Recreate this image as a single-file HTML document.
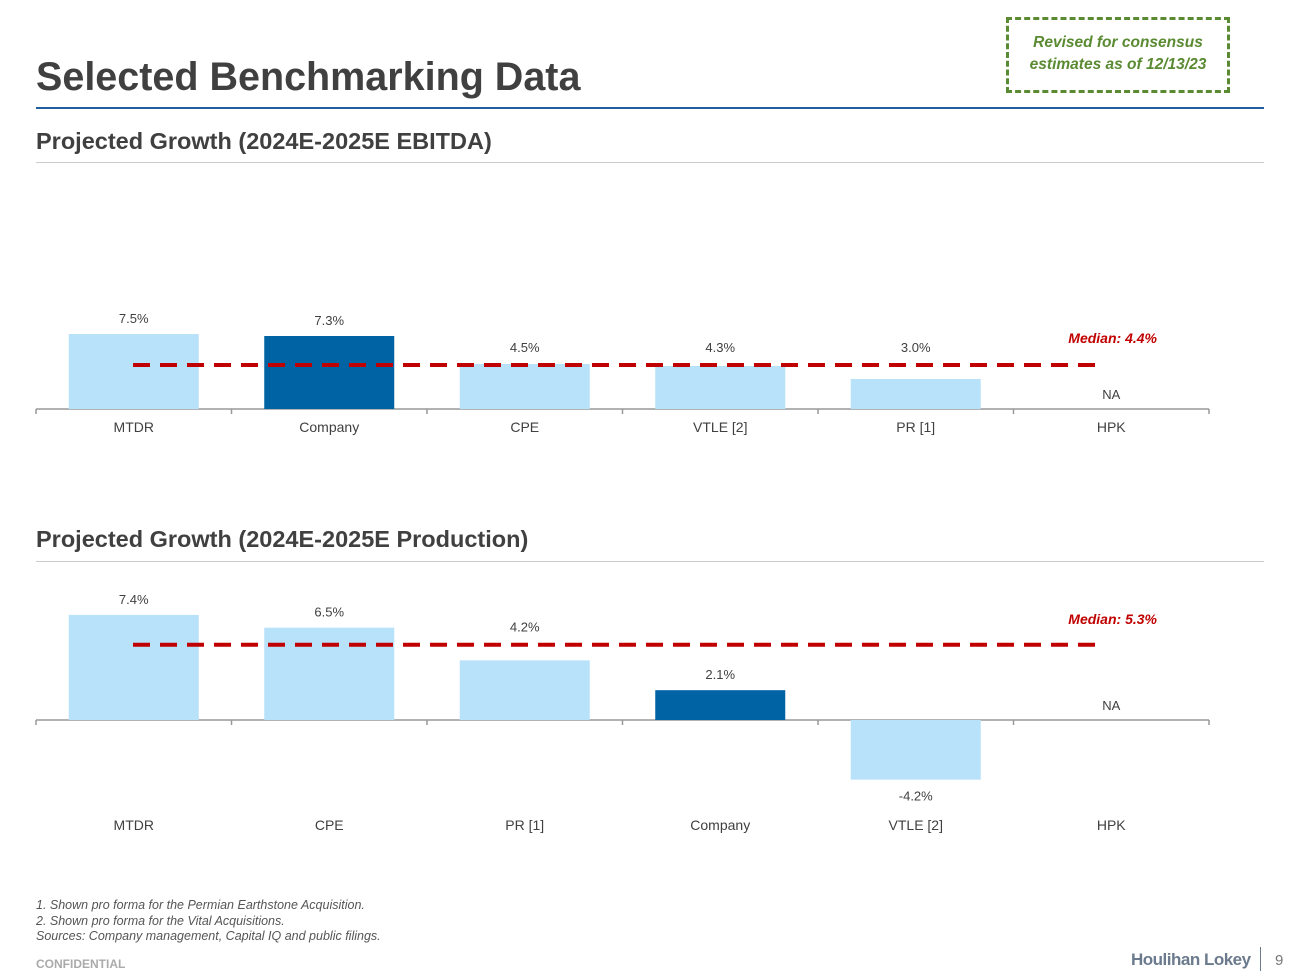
<!DOCTYPE html>
<html><head><meta charset="utf-8"><style>
body{margin:0;width:1300px;height:975px;background:#fff;font-family:"Liberation Sans",Arial,sans-serif;position:relative;overflow:hidden}
.abs{position:absolute}
</style></head><body>
<div class="abs" style="left:36px;top:55px;font-size:39.5px;font-weight:bold;color:#404040">Selected Benchmarking Data</div>
<div class="abs" style="left:36px;top:107px;width:1228px;height:2px;background:#1f5f9f"></div>
<div class="abs" style="left:1006px;top:17px;width:224px;height:76px;border:3px dashed #5a8a32;color:#5a8a32;font-style:italic;font-weight:bold;font-size:15.5px;text-align:center;line-height:22px;padding-top:12px;box-sizing:border-box">Revised for consensus<br>estimates as of 12/13/23</div>
<div class="abs" style="left:36px;top:128px;font-size:23.5px;font-weight:bold;color:#404040">Projected Growth (2024E-2025E EBITDA)</div>
<div class="abs" style="left:36px;top:162px;width:1228px;height:1px;background:#ccc"></div>
<div class="abs" style="left:36px;top:526px;font-size:23.5px;font-weight:bold;color:#404040">Projected Growth (2024E-2025E Production)</div>
<div class="abs" style="left:36px;top:561px;width:1228px;height:1px;background:#ccc"></div>
<svg class="abs" style="left:0;top:0" width="1300" height="975" id="svg"></svg>
<div class="abs" style="left:36px;top:898px;font-size:12.5px;font-style:italic;color:#555;line-height:15.5px">1. Shown pro forma for the Permian Earthstone Acquisition.<br>2. Shown pro forma for the Vital Acquisitions.<br>Sources: Company management, Capital IQ and public filings.</div>
<div class="abs" style="left:36px;top:957px;font-size:12px;font-weight:bold;color:#aaa">CONFIDENTIAL</div>
<div class="abs" style="left:1131px;top:950px;font-size:17px;font-weight:bold;color:#6b7a8c;letter-spacing:-0.5px">Houlihan Lokey</div>
<div class="abs" style="left:1260px;top:947px;width:1px;height:24px;background:#6b7a8c"></div>
<div class="abs" style="left:1275px;top:952px;font-size:15px;color:#777">9</div>
<script>
const cats1=["MTDR","Company","CPE","VTLE [2]","PR [1]","HPK"];
const vals1=[7.5,7.3,4.5,4.3,3.0,null];
const hi1=[false,true,false,false,false,false];
const median1=4.4;
const cats2=["MTDR","CPE","PR [1]","Company","VTLE [2]","HPK"];
const vals2=[7.4,6.5,4.2,2.1,-4.2,null];
const hi2=[false,false,false,true,false,false];
const median2=5.3;
const svg=document.getElementById('svg');
const NS="http://www.w3.org/2000/svg";
function mk(t,a,name){const e=document.createElementNS(NS,t);for(const k in a)e.setAttribute(k,a[k]);


svg.appendChild(e);return e;}
function chart(cats,vals,hi,med,base,scale,labY,medLabY,id){
const x0=36,x1=1209,step=(x1-x0)/cats.length;
const y=v=>base-v*scale;
mk('line',{x1:x0,x2:x1,y1:base,y2:base,stroke:'#999','stroke-width':1.5},id+'-axis');
for(let i=0;i<=cats.length;i++)mk('line',{x1:x0+i*step,x2:x0+i*step,y1:base,y2:base+5,stroke:'#999','stroke-width':1.5},id+'-tick');
cats.forEach((c,i)=>{const cx=x0+step*(i+0.5),v=vals[i];
if(v!==null){const top=Math.min(y(v),base),h=Math.abs(y(v)-base);
mk('rect',{x:cx-65,y:top,width:130,height:h,fill:hi[i]?'#0063a3':'#b8e1fa'},id+'-bar-'+c);
let ly=v>=0?y(v)-11:y(v)+21;
if(v>=0&&y(v)>y(med)-3&&y(v)<y(med)+25)ly=Math.min(ly,y(med)-13);
const t=mk('text',{x:cx,y:ly,'text-anchor':'middle','font-size':13,fill:'#404040'},id+'-value-label');t.textContent=v.toFixed(1)+'%';}
else{const t=mk('text',{x:cx,y:base-10,'text-anchor':'middle','font-size':13,fill:'#404040'},id+'-value-label');t.textContent='NA';}
const l=mk('text',{x:cx,y:labY,'text-anchor':'middle','font-size':14,fill:'#404040'},id+'-category-label');l.textContent=c;});
mk('line',{x1:133,x2:1102,y1:y(med),y2:y(med),stroke:'#c00000','stroke-width':4,'stroke-dasharray':'17 10'},id+'-median-line');
const m=mk('text',{x:1157,y:medLabY,'text-anchor':'end','font-size':14,'font-weight':'bold','font-style':'italic',fill:'#c00000'},id+'-median-label');m.textContent='Median: '+med.toFixed(1)+'%';}
chart(cats1,vals1,hi1,median1,409,10,432,343,'ebitda');
chart(cats2,vals2,hi2,median2,720,14.2,830,624,'production');
</script>
</body></html>
